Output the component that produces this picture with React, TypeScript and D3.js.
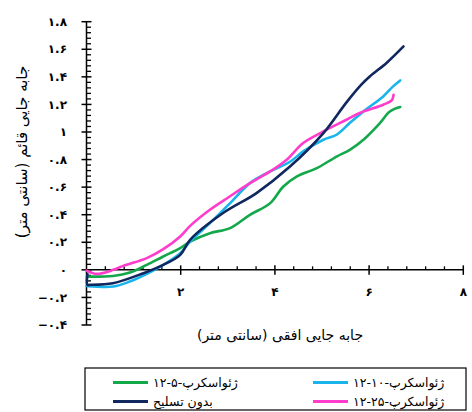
import React from "react"
import * as d3 from "d3"

// series (x: horizontal displacement cm, y: vertical displacement cm)
const navyX = [0.02, 0.02, 0.07, 0.56, 1.21, 1.63, 1.99, 2.2, 2.9, 3.61, 4.32, 5.03, 5.52, 5.84, 6.02, 6.37, 6.73]
const navyY = [-0.03, -0.109, -0.109, -0.097, -0.024, 0.036, 0.109, 0.218, 0.412, 0.557, 0.749, 0.992, 1.215, 1.345, 1.404, 1.501, 1.621]

const blueX = [0.0, 0.57, 0.92, 1.28, 1.63, 1.99, 2.2, 2.62, 3.05, 3.47, 3.9, 4.32, 4.6, 5.03, 5.31, 5.59, 5.88, 6.3, 6.51, 6.66]
const blueY = [-0.116, -0.121, -0.085, -0.029, 0.036, 0.121, 0.205, 0.339, 0.484, 0.629, 0.714, 0.784, 0.859, 0.944, 0.98, 1.065, 1.149, 1.258, 1.331, 1.374]

const greenX = [0.02, 0.56, 0.92, 1.28, 1.63, 1.99, 2.2, 2.62, 3.05, 3.47, 3.9, 4.18, 4.46, 4.89, 5.31, 5.59, 5.88, 6.23, 6.44, 6.66]
const greenY = [-0.049, -0.044, -0.02, 0.036, 0.097, 0.158, 0.205, 0.266, 0.303, 0.399, 0.484, 0.605, 0.677, 0.738, 0.822, 0.871, 0.944, 1.065, 1.149, 1.181]

const pinkX = [0.0, 0.22, 0.57, 0.78, 1.28, 1.63, 1.99, 2.2, 2.62, 3.04, 3.47, 3.9, 4.25, 4.6, 5.03, 5.52, 5.8, 6.3, 6.48, 6.52]
const pinkY = [-0.005, -0.029, 0.0, 0.029, 0.085, 0.15, 0.242, 0.319, 0.436, 0.532, 0.629, 0.714, 0.799, 0.92, 1.004, 1.089, 1.138, 1.198, 1.229, 1.27]

const seriesNames = ["ژئواسکرپ-۵-۱۲", "ژئواسکرپ-۱۰-۱۲", "بدون تسلیح", "ژئواسکرپ-۲۵-۱۲"]
const seriesColors = ["#13a84a", "#1ab4ec", "#10285e", "#ff3ccc"]

const xMajor = [2, 4, 6, 8]
const yMajor = [-0.4, -0.2, 0, 0.2, 0.4, 0.6, 0.8, 1, 1.2, 1.4, 1.6, 1.8]

const xTitle = "جابه جایی افقی (سانتی متر)"
const yTitle = "جابه جایی قائم (سانتی متر)"

const faDigits = "۰۱۲۳۴۵۶۷۸۹"
const toFa = (v: number) =>
  (Math.round(v * 10) / 10).toString().replace(/-/, "−").replace(/[0-9]/g, (c) => faDigits[+c])

const font = "DejaVu Sans"

const App = () => {
  const x = d3.scaleLinear().domain([0, 8]).range([86.5, 463.3])
  const y = d3.scaleLinear().domain([-0.4, 1.8]).range([325, 21.7])

  const line = d3
    .line<[number, number]>()
    .x((d) => x(d[0]))
    .y((d) => y(d[1]))
    .curve(d3.curveCatmullRom.alpha(0.5))

  const zip = (xs: number[], ys: number[]) => xs.map((v, i) => [v, ys[i]] as [number, number])
  const series = [
    { data: zip(greenX, greenY), color: seriesColors[0] },
    { data: zip(blueX, blueY), color: seriesColors[1] },
    { data: zip(pinkX, pinkY), color: seriesColors[3] },
    { data: zip(navyX, navyY), color: seriesColors[2] },
  ]

  const yMinor = d3.range(-10, 46).map((i) => i * 0.04).filter((_, i) => i % 5 !== 0)
  const xMinor = d3.range(0, 21).map((i) => i * 0.4).filter((_, i) => i % 5 !== 0)

  const x0 = x(0)
  const y0 = y(0)

  const legend = [
    { name: seriesNames[0], color: seriesColors[0], lx: 113, ly: 382.5 },
    { name: seriesNames[1], color: seriesColors[1], lx: 313, ly: 382.5 },
    { name: seriesNames[2], color: seriesColors[2], lx: 113, ly: 401.5 },
    { name: seriesNames[3], color: seriesColors[3], lx: 313, ly: 401.5 },
  ]

  return (
    <svg width={472} height={412} style={{ position: "absolute", left: 0, top: 0, background: "#fff" }}>
      {/* y axis */}
      <line x1={x0} x2={x0} y1={y(1.8)} y2={y(-0.4)} stroke="#000" strokeWidth={1.5} />
      {yMinor.map((t) => (
        <line key={"ym" + t} x1={x0} x2={x0 + 4.5} y1={y(t)} y2={y(t)} stroke="#000" strokeWidth={1.3} />
      ))}
      {yMajor.map((t) => (
        <g key={"yM" + t}>
          <line x1={x0 - 5} x2={x0 + 5} y1={y(t)} y2={y(t)} stroke="#000" strokeWidth={1.5} />
          <text x={67} y={y(t)} dy="0.35em" textAnchor="end" fontFamily={font} fontSize={12} fontWeight="bold">
            {toFa(t)}
          </text>
        </g>
      ))}
      {/* x axis */}
      <line x1={x0} x2={x(8)} y1={y0} y2={y0} stroke="#000" strokeWidth={1.5} />
      {xMinor.map((t) => (
        <line key={"xm" + t} x1={x(t)} x2={x(t)} y1={y0} y2={y0 - 3.5} stroke="#000" strokeWidth={1.3} />
      ))}
      {xMajor.map((t) => (
        <g key={"xM" + t}>
          <line x1={x(t)} x2={x(t)} y1={y0 - 4.5} y2={y0 + 5} stroke="#000" strokeWidth={1.5} />
          <text x={x(t)} y={292} dy="0.35em" textAnchor="middle" fontFamily={font} fontSize={12} fontWeight="bold">
            {toFa(t)}
          </text>
        </g>
      ))}
      {/* series */}
      {series.map((s, i) => (
        <path key={i} d={line(s.data) ?? ""} fill="none" stroke={s.color} strokeWidth={2.6} strokeLinejoin="round" strokeLinecap="round" />
      ))}
      {/* titles */}
      <text x={280} y={335} dy="0.35em" textAnchor="middle" direction="rtl" fontFamily={font} fontSize={14}>
        {xTitle}
      </text>
      <text transform="translate(22,152) rotate(-90)" dy="0.35em" textAnchor="middle" direction="rtl" fontFamily={font} fontSize={15}>
        {yTitle}
      </text>
      {/* legend */}
      <rect x={85} y={368} width={381} height={42} fill="none" stroke="#000" strokeWidth={1.2} />
      {legend.map((l) => (
        <g key={l.name}>
          <line x1={l.lx} x2={l.lx + 35} y1={l.ly} y2={l.ly} stroke={l.color} strokeWidth={3} />
          <text x={l.lx + 40} y={l.ly} dy="0.35em" textAnchor="end" direction="rtl" fontFamily={font} fontSize={12.5}>
            {l.name}
          </text>
        </g>
      ))}
    </svg>
  )
}

export default App
